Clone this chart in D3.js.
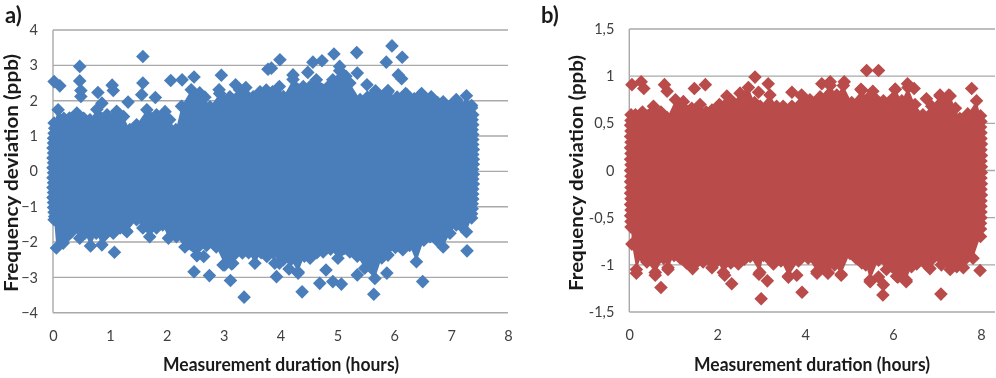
<!DOCTYPE html>
<html><head><meta charset="utf-8">
<script src="https://cdn.jsdelivr.net/npm/d3@7"></script>
<style>
html,body{margin:0;padding:0;background:#fff;overflow:hidden}
svg{display:block;filter:blur(.4px)}
text{font-family:Lato,"Open Sans",sans-serif}
</style></head><body>
<svg id="c" width="996" height="378"></svg>
<script>
// Panel a: dense cloud edges and isolated points, read as [hours, ppb]
const aCloudTop=[[.02,1.37],[.09,1.74],[.19,1.5],[.29,1.51],[.42,1.65],[.54,1.5],[.65,1.46],[.77,1.75],[.95,1.6],[1.12,1.7],[1.24,1.55],[1.35,1.18],[1.47,1.32],[1.65,1.74],[1.82,1.6],[1.94,1.5],[2.05,1.46],[2.16,1.18],[2.26,1.84],[2.43,2.31],[2.58,2.22],[2.67,2.1],[2.76,1.83],[2.93,2.2],[3.11,2.11],[3.28,2.31],[3.4,2.15],[3.52,2.11],[3.64,2.25],[3.75,2.3],[3.86,2.25],[3.98,2.4],[4.05,2.12],[4.22,2.6],[4.4,2.4],[4.52,2.4],[4.63,2.59],[4.84,2.4],[5.04,2.85],[5.22,2.5],[5.4,2.03],[5.53,2.1],[5.66,2.22],[5.78,2.1],[5.89,2.25],[6.05,2.1],[6.22,2.17],[6.35,2.05],[6.48,2.2],[6.65,2.11],[6.76,1.95],[6.86,1.97],[6.98,1.85],[7.09,2.03],[7.18,1.85],[7.27,2.14],[7.36,1.8]];
const aCloudBottom=[[.02,-1.37],[.06,-2.17],[.24,-1.85],[.36,-1.6],[.47,-1.89],[.56,-1.75],[.66,-2.11],[.76,-1.75],[.86,-2.08],[1.06,-1.75],[1.18,-1.6],[1.3,-1.71],[1.47,-1.37],[1.58,-1.6],[1.7,-1.85],[1.82,-1.6],[1.93,-1.52],[2.03,-1.89],[2.17,-1.85],[2.32,-2.14],[2.53,-2.37],[2.7,-2.1],[2.87,-2.14],[3.02,-2.65],[3.16,-2.6],[3.33,-2.31],[3.44,-2.3],[3.55,-2.6],[3.66,-2.3],[3.76,-2.41],[3.87,-2.3],[3.98,-2.6],[4.05,-2.5],[4.18,-2.5],[4.31,-2.85],[4.42,-2.4],[4.52,-2.46],[4.64,-2.3],[4.75,-2.28],[4.88,-2.2],[5.01,-2.46],[5.22,-2.28],[5.35,-2.4],[5.48,-2.74],[5.66,-3.03],[5.78,-2.45],[5.89,-2.37],[6.02,-2.15],[6.15,-2.22],[6.27,-2.1],[6.39,-2.56],[6.52,-1.95],[6.63,-1.85],[6.75,-1.95],[6.86,-2.14],[6.98,-1.75],[7.09,-1.52],[7.18,-1.55],[7.27,-1.71],[7.36,-1.32]];
const aCloudLeft=[[.03,1.22],[.02,1.08],[.01,.94],[.01,.8],[.0,.66],[.01,.52],[.0,.38],[.01,.24],[.0,.1],[.01,-.04],[.0,-.18],[.01,-.32],[.0,-.46],[.01,-.6],[.0,-.74],[.01,-.88],[.01,-1.02],[.02,-1.16],[.03,-1.28]];
const aCloudRight=[[7.38,1.6],[7.37,1.46],[7.38,1.32],[7.37,1.18],[7.38,1.04],[7.38,.9],[7.38,.76],[7.39,.62],[7.38,.48],[7.39,.34],[7.39,.2],[7.38,.06],[7.39,-.08],[7.38,-.22],[7.39,-.36],[7.38,-.5],[7.38,-.64],[7.38,-.78],[7.37,-.92],[7.37,-1.06],[7.36,-1.2]];
const aIsolated=[[.02,2.54],[.12,2.42],[.47,2.97],[.47,2.56],[.49,2.29],[.49,2.12],[.79,2.23],[.86,1.93],[1.04,2.44],[1.06,2.29],[1.32,1.96],[1.58,3.25],[1.58,2.5],[1.56,2.17],[1.8,2.09],[1.97,1.69],[2.07,2.57],[2.27,2.59],[2.48,2.67],[2.96,2.72],[2.92,2.31],[3.21,2.45],[3.39,2.37],[3.78,2.89],[3.84,2.92],[3.99,3.16],[4.22,2.73],[4.48,2.8],[4.57,3.09],[4.73,3.13],[4.94,3.32],[5.04,2.97],[4.92,2.59],[5.15,2.69],[5.34,3.36],[5.35,2.78],[5.52,2.45],[5.67,2.28],[5.89,2.29],[5.96,3.55],[5.86,3.09],[6.14,3.23],[6.07,2.73],[6.13,2.62],[6.2,2.2],[7.36,1.86],
[.18,-2.03],[.33,-1.71],[.76,-1.73],[1.08,-2.29],[1.29,-1.68],[2.53,-2.39],[2.65,-2.41],[2.48,-2.84],[2.75,-2.95],[2.99,-2.65],[3.14,-2.62],[3.12,-3.09],[3.36,-3.56],[3.9,-2.6],[3.93,-2.98],[4.15,-2.76],[4.31,-2.88],[4.38,-3.41],[4.69,-3.17],[4.8,-2.79],[4.92,-3.12],[5.07,-3.19],[5.35,-2.93],[5.64,-3.48],[5.87,-2.88],[6.5,-3.12],[7.28,-2.25]];
const aXTicks=[0,1,2,3,4,5,6,7,8];
const aYTicks=[-4,-3,-2,-1,0,1,2,3,4];

// Panel b
const bCloudTop=[[.04,.59],[.14,.59],[.3,.62],[.55,.68],[.72,.62],[.86,.56],[1.05,.75],[1.23,.73],[1.42,.66],[1.61,.7],[1.75,.62],[1.88,.64],[2.05,.7],[2.22,.79],[2.37,.72],[2.52,.82],[2.71,.88],[2.85,.72],[2.98,.68],[3.2,.8],[3.35,.68],[3.5,.68],[3.7,.68],[3.92,.79],[4.11,.75],[4.34,.78],[4.57,.9],[4.72,.8],[4.87,.9],[5.06,.72],[5.29,.85],[5.42,.76],[5.6,.76],[5.78,.74],[6.05,.86],[6.2,.74],[6.34,.88],[6.5,.7],[6.68,.59],[6.88,.68],[7.07,.79],[7.18,.72],[7.3,.79],[7.42,.66],[7.52,.55],[7.7,.6],[7.9,.74],[7.99,.58]];
const bCloudBottom=[[.04,-.6],[.06,-.78],[.16,-1.05],[.28,-.9],[.4,-.97],[.59,-1.08],[.78,-.93],[.88,-1.03],[1.02,-.9],[1.16,-.93],[1.3,-.98],[1.44,-1.04],[1.56,-.96],[1.68,-.97],[1.88,-1.03],[2.0,-.96],[2.14,-1.08],[2.31,-.98],[2.48,-.99],[2.62,-.94],[2.75,-.91],[2.97,-1.08],[3.05,-.9],[3.16,-.93],[3.28,-.99],[3.45,-.96],[3.62,-1.12],[3.85,-.96],[4.07,-.93],[4.27,-1.07],[4.4,-1.0],[4.52,-1.08],[4.67,-1.0],[4.82,-1.1],[5.02,-.88],[5.16,-.93],[5.29,-.98],[5.38,-1.0],[5.48,-1.16],[5.67,-.95],[5.85,-1.05],[6.08,-1.12],[6.3,-1.16],[6.42,-1.02],[6.54,-.99],[6.76,-1.0],[6.91,-.93],[7.1,-1.0],[7.3,-1.05],[7.45,-1.02],[7.6,-1.03],[7.82,-.93],[7.99,-.7]];
const bCloudLeft=[[.04,.53],[.03,.48],[.04,.42],[.03,.36],[.04,.3],[.03,.24],[.04,.18],[.03,.12],[.04,.06],[.03,0],[.04,-.06],[.03,-.12],[.04,-.18],[.03,-.24],[.04,-.3],[.03,-.36],[.04,-.42],[.03,-.48],[.04,-.54]];
const bCloudRight=[[8.0,.52],[7.99,.46],[8.0,.4],[8.0,.34],[8.01,.28],[8.0,.22],[8.01,.16],[8.0,.1],[8.01,.04],[8.01,-.02],[8.0,-.08],[8.01,-.14],[8.0,-.2],[8.01,-.26],[8.0,-.32],[8.0,-.38],[8.0,-.44],[8.0,-.5],[7.99,-.56],[7.99,-.62]];
const bIsolated=[[.06,.91],[.27,.94],[.33,.87],[.8,.91],[.86,.84],[1.48,.87],[1.73,.91],[2.86,.99],[2.94,.83],[3.16,.92],[3.7,.83],[3.92,.8],[4.38,.92],[4.57,.94],[4.89,.94],[5.4,1.06],[5.67,1.06],[5.27,.86],[5.54,.84],[6.05,.86],[6.33,.92],[6.48,.87],[6.76,.76],[7.07,.8],[7.27,.8],[7.79,.87],
[.16,-1.09],[.59,-1.11],[.72,-1.24],[.88,-1.05],[2.17,-1.11],[2.33,-1.2],[2.95,-1.1],[3.0,-1.36],[3.14,-1.17],[3.62,-1.13],[3.81,-1.11],[3.93,-1.29],[4.27,-1.09],[4.52,-1.09],[4.82,-1.11],[5.48,-1.18],[5.67,-1.13],[5.78,-1.21],[5.77,-1.32],[6.11,-1.13],[6.3,-1.18],[6.84,-1.04],[7.09,-1.31],[7.98,-1.06]];
const bXTicks=[0,2,4,6,8];
const bYTicks=[-1.5,-1,-.5,0,.5,1,1.5];

const xTitle="Measurement duration (hours)";
const yTitle="Frequency deviation (ppb)";
const colorA="#4a7ebb", colorB="#b94c4a", gridColor="#a9a9a9", tickColor="#3f3f3f";

const svg=d3.select("#c");

function panel(o){
  const x=d3.scaleLinear().domain(o.xDomain).range(o.xRange);
  const y=d3.scaleLinear().domain(o.yDomain).range(o.yRange);
  const g=svg.append("g");
  g.append("g").selectAll("line").data(o.yTicks).join("line")
    .attr("x1",o.xRange[0]).attr("x2",o.xRange[1])
    .attr("y1",d=>y(d)).attr("y2",d=>y(d))
    .attr("stroke",gridColor).attr("stroke-width",1.4);
  g.append("line").attr("x1",o.xRange[0]).attr("x2",o.xRange[0])
    .attr("y1",o.yRange[0]).attr("y2",o.yRange[1])
    .attr("stroke",gridColor).attr("stroke-width",1.4);
  const outline=o.top.concat(o.right,o.bottom.slice().reverse(),o.left.slice().reverse());
  g.append("path").attr("fill",o.color)
    .attr("d",d3.line().x(d=>x(d[0])).y(d=>y(d[1]))(outline)+"Z");
  const hw=6.8;
  const mark=`M0,${-hw}L${hw},0L0,${hw}L${-hw},0Z`;
  g.append("g").selectAll("path").data(o.top.concat(o.bottom,o.left,o.right,o.iso)).join("path")
    .attr("d",mark).attr("fill",o.color)
    .attr("transform",d=>`translate(${x(d[0])},${y(d[1])})`);
  const ay=d3.axisLeft(y).tickValues(o.yTicks).tickSize(0).tickPadding(o.yPad).tickFormat(o.yFmt);
  const gy=g.append("g").attr("transform",`translate(${o.xRange[0]},0)`).call(ay);
  const ax=d3.axisBottom(x).tickValues(o.xTicks).tickSize(0).tickPadding(o.xPad).tickFormat(d3.format("d"));
  const gx=g.append("g").attr("transform",`translate(0,${o.yRange[0]})`).call(ax);
  [gy,gx].forEach(s=>{s.select(".domain").remove();
    s.selectAll("text").attr("fill",tickColor).style("font-size","14.5px");});
  g.append("text").text(o.letter).attr("x",o.letterX).attr("y",23)
    .style("font-size","22px").style("font-weight",700).attr("fill","#1a1a1a");
  g.append("text").text(xTitle).attr("x",o.xTitleX).attr("y",371).attr("text-anchor","middle")
    .style("font-size","18px").style("font-weight",700).attr("fill","#1a1a1a")
    .attr("textLength",o.xTitleLen).attr("lengthAdjust","spacingAndGlyphs");
  g.append("text").text(yTitle).attr("text-anchor","middle")
    .attr("transform",`translate(${o.yTitleX},${o.yTitleY}) rotate(-90)`)
    .style("font-size","18px").style("font-weight",700).attr("fill","#1a1a1a")
    .attr("textLength",o.yTitleLen).attr("lengthAdjust","spacingAndGlyphs");
}

panel({letter:"a)",letterX:5,color:colorA,top:aCloudTop,bottom:aCloudBottom,left:aCloudLeft,right:aCloudRight,iso:aIsolated,
  xDomain:[0,8],xRange:[53,508],yDomain:[-4,4],yRange:[312.7,30],
  xTicks:aXTicks,yTicks:aYTicks,yFmt:d3.format("d"),yPad:15,xPad:18,
  xTitleX:281,xTitleLen:236,yTitleX:18,yTitleY:173,yTitleLen:238});
panel({letter:"b)",letterX:541,color:colorB,top:bCloudTop,bottom:bCloudBottom,left:bCloudLeft,right:bCloudRight,iso:bIsolated,
  xDomain:[0,8.32],xRange:[629.3,995],yDomain:[-1.5,1.5],yRange:[312,29],
  xTicks:bXTicks,yTicks:bYTicks,yFmt:d=>String(d).replace(".",","),yPad:15,xPad:18,
  xTitleX:812,xTitleLen:236,yTitleX:583,yTitleY:173,yTitleLen:236});
</script>
</body></html>
